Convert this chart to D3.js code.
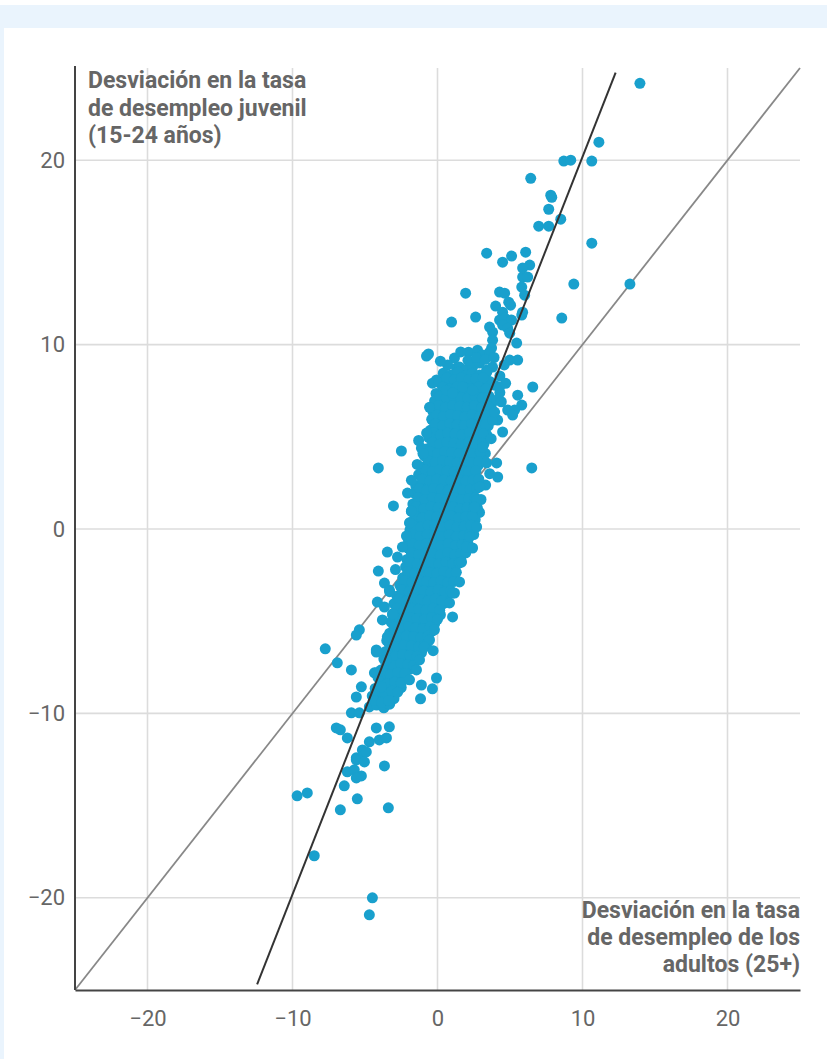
<!DOCTYPE html>
<html>
<head>
<meta charset="utf-8">
<script src="https://cdn.jsdelivr.net/npm/d3@7"></script>
<style>
  html, body { margin: 0; padding: 0; background: #fff; }
  svg { display: block; }
  text { font-family: Roboto, "Noto Sans", sans-serif; }
</style>
</head>
<body>
<svg id="chart"></svg>
<script>
// ---- data ----
const xTicks = [-20, -10, 0, 10, 20];
const yTicks = [-20, -10, 0, 10, 20];
const xTitle = ['Desviación en la tasa', 'de desempleo de los', 'adultos (25+)'];
const yTitle = ['Desviación en la tasa', 'de desempleo juvenil', '(15-24 años)'];

// fitted line: slope, intercept, and the y span it is drawn over
const trendCoef = [2.0, 0.18];
const trendSpan = [-24.7, 24.75];

// points above the dense core
const upperPoints = [
  [13.96, 24.17], [11.13, 20.98], [8.71, 19.95], [9.19, 20.0], [10.64, 19.95],
  [6.43, 19.02], [7.81, 18.10], [7.88, 17.99], [7.67, 17.34], [8.50, 16.80],
  [6.98, 16.42], [7.67, 16.42], [10.64, 15.50], [3.39, 14.96], [4.49, 14.47],
  [5.11, 14.80], [6.08, 15.01], [6.36, 14.31], [5.87, 14.15], [5.87, 13.66],
  [6.22, 13.66], [5.81, 13.12], [6.01, 12.68], [9.40, 13.28], [13.27, 13.28],
  [1.94, 12.79], [4.28, 12.85], [4.63, 12.79], [4.91, 12.30], [5.04, 12.14],
  [4.01, 12.09], [4.49, 11.76], [5.87, 11.76], [5.81, 11.60], [2.63, 11.49],
  [0.97, 11.22], [8.57, 11.44], [4.28, 11.33], [4.63, 11.44], [5.11, 11.33],
  [3.59, 10.95], [4.49, 11.06], [3.80, 10.68], [4.84, 10.89], [4.98, 10.62],
  [5.46, 10.08], [3.80, 10.24], [3.73, 9.81], [2.14, 9.59], [2.76, 9.70],
  [3.11, 9.43], [3.59, 9.59], [-0.62, 9.49], [-0.76, 9.38], [1.17, 9.27],
  [4.98, 9.16], [5.53, 9.16], [1.31, 8.73], [1.52, 8.78], [1.94, 8.62],
  [2.42, 8.78], [2.90, 9.00], [3.39, 8.62], [3.80, 8.78], [-0.07, 8.08],
  [-0.35, 7.91], [6.57, 7.70], [3.94, 7.80], [4.30, 7.40], [5.53, 7.26],
  [5.81, 6.72], [5.32, 6.45], [4.84, 6.45], [5.18, 6.18], [4.15, 5.91],
  [4.49, 5.26], [3.60, 6.10], [3.70, 6.70], [3.50, 5.60], [3.40, 5.10],
  [3.30, 4.10], [3.20, 4.60], [-0.35, 5.91], [-4.08, 3.31], [-2.49, 4.23],
  [-1.11, 4.39], [-1.30, 4.80], [6.50, 3.31], [4.08, 3.58], [4.15, 2.82],
  [3.32, 2.38], [3.00, 1.60], [2.90, 0.90], [0.70, 8.90], [2.10, 9.15],
  [2.70, 9.30], [3.30, 9.20], [4.30, 8.30], [4.60, 8.90], [3.90, 9.30],
  [2.60, 0.50], [2.50, -0.30], [2.75, 1.15]
];

// dense core of the cloud
const corePoints = [
  [0.4, 8.45], [0.9, 8.35], [1.4, 8.5], [1.9, 8.3], [2.4, 8.45], [2.9, 8.35], [3.4, 8.5],
  [0.1, 7.95], [0.6, 7.85], [1.1, 8.0], [1.6, 7.9], [2.1, 7.8], [2.6, 7.95], [3.1, 7.85], [3.6, 8.0],
  [-0.1, 7.35], [0.35, 7.45], [0.85, 7.3], [1.35, 7.5], [1.85, 7.4], [2.35, 7.3], [2.85, 7.45], [3.35, 7.35],
  [-0.2, 6.95], [0.3, 6.85], [0.8, 7.0], [1.3, 6.9], [1.8, 6.8], [2.3, 6.95], [2.8, 6.85], [3.3, 6.95],
  [-0.3, 6.35], [0.15, 6.45], [0.65, 6.3], [1.15, 6.5], [1.65, 6.4], [2.15, 6.3], [2.65, 6.45], [3.15, 6.35],
  [-0.4, 5.95], [0.1, 5.85], [0.6, 5.95], [1.1, 5.8], [1.6, 5.9], [2.1, 6.0], [2.6, 5.85], [3.1, 5.95],
  [-0.5, 5.35], [-0.05, 5.45], [0.45, 5.3], [0.95, 5.5], [1.45, 5.4], [1.95, 5.3], [2.45, 5.45], [2.95, 5.35],
  [-0.6, 4.95], [-0.1, 4.85], [0.4, 4.95], [0.9, 4.8], [1.4, 4.9], [1.9, 5.0], [2.4, 4.85], [2.9, 4.95],
  [-0.7, 4.35], [-0.25, 4.45], [0.25, 4.3], [0.75, 4.5], [1.25, 4.4], [1.75, 4.3], [2.25, 4.45], [2.75, 4.35],
  [-0.9, 3.95], [-0.4, 3.85], [0.1, 3.95], [0.6, 3.8], [1.1, 3.9], [1.6, 4.0], [2.1, 3.85], [2.6, 3.95], [3.0, 3.8],
  [-1.1, 3.35], [-0.6, 3.45], [-0.1, 3.3], [0.4, 3.5], [0.9, 3.4], [1.4, 3.3], [1.9, 3.45], [2.4, 3.35], [2.8, 3.45],
  [-1.3, 2.95], [-0.8, 2.85], [-0.3, 2.95], [0.2, 2.8], [0.7, 2.9], [1.2, 3.0], [1.7, 2.85], [2.2, 2.95], [2.6, 2.85],
  [-1.5, 2.35], [-1.0, 2.45], [-0.5, 2.3], [0.0, 2.5], [0.5, 2.4], [1.0, 2.3], [1.5, 2.45], [2.0, 2.35], [2.5, 2.45],
  [-1.6, 1.95], [-1.1, 1.85], [-0.6, 1.95], [-0.1, 1.8], [0.4, 1.9], [0.9, 2.0], [1.4, 1.85], [1.9, 1.95], [2.4, 1.85],
  [-1.7, 1.35], [-1.2, 1.45], [-0.7, 1.3], [-0.2, 1.5], [0.3, 1.4], [0.8, 1.3], [1.3, 1.45], [1.8, 1.35], [2.3, 1.45],
  [-1.8, 0.95], [-1.3, 0.85], [-0.8, 0.95], [-0.3, 0.8], [0.2, 0.9], [0.7, 1.0], [1.2, 0.85], [1.7, 0.95], [2.2, 0.85],
  [-1.9, 0.35], [-1.4, 0.45], [-0.9, 0.3], [-0.4, 0.5], [0.1, 0.4], [0.6, 0.3], [1.1, 0.45], [1.6, 0.35], [2.1, 0.45],
  [-1.9, -0.05], [-1.4, -0.15], [-0.9, -0.05], [-0.4, -0.2], [0.1, -0.1], [0.6, 0.0], [1.1, -0.15], [1.6, -0.05], [2.0, -0.15],
  [-2.0, -0.65], [-1.5, -0.55], [-1.0, -0.7], [-0.5, -0.5], [0.0, -0.6], [0.5, -0.7], [1.0, -0.55], [1.5, -0.65], [1.9, -0.55],
  [-2.0, -1.05], [-1.5, -1.15], [-1.0, -1.05], [-0.5, -1.2], [0.0, -1.1], [0.5, -1.0], [1.0, -1.15], [1.5, -1.05], [1.8, -1.2],
  [-2.1, -1.65], [-1.6, -1.55], [-1.1, -1.7], [-0.6, -1.5], [-0.1, -1.6], [0.4, -1.7], [0.9, -1.55], [1.3, -1.65], [1.6, -1.55],
  [-2.2, -2.05], [-1.7, -2.15], [-1.2, -2.05], [-0.7, -2.2], [-0.2, -2.1], [0.3, -2.0], [0.8, -2.15], [1.2, -2.05],
  [-2.4, -2.65], [-1.9, -2.55], [-1.4, -2.7], [-0.9, -2.5], [-0.4, -2.6], [0.1, -2.7], [0.6, -2.55], [1.0, -2.65],
  [-2.6, -3.05], [-2.1, -3.15], [-1.6, -3.05], [-1.1, -3.2], [-0.6, -3.1], [-0.1, -3.0], [0.4, -3.15], [0.8, -3.05],
  [-2.8, -3.65], [-2.3, -3.55], [-1.8, -3.7], [-1.3, -3.5], [-0.8, -3.6], [-0.3, -3.7], [0.2, -3.55], [0.6, -3.65],
  [-3.0, -4.05], [-2.5, -4.15], [-2.0, -4.05], [-1.5, -4.2], [-1.0, -4.1], [-0.5, -4.0], [0.0, -4.15], [0.4, -4.05],
  [-3.1, -4.65], [-2.6, -4.55], [-2.1, -4.7], [-1.6, -4.5], [-1.1, -4.6], [-0.6, -4.7], [-0.1, -4.55], [0.2, -4.65],
  [-3.2, -5.05], [-2.7, -5.15], [-2.2, -5.05], [-1.7, -5.2], [-1.2, -5.1], [-0.7, -5.0], [-0.2, -5.15],
  [-3.3, -5.65], [-2.8, -5.55], [-2.3, -5.7], [-1.8, -5.5], [-1.3, -5.6], [-0.8, -5.7], [-0.4, -5.55],
  [-3.5, -6.05], [-3.0, -6.15], [-2.5, -6.05], [-2.0, -6.2], [-1.5, -6.1], [-1.0, -6.0], [-0.7, -6.15],
  [-3.6, -6.65], [-3.1, -6.55], [-2.6, -6.7], [-2.1, -6.5], [-1.6, -6.6], [-1.1, -6.7],
  [-3.7, -7.05], [-3.2, -7.15], [-2.7, -7.05], [-2.2, -7.2], [-1.7, -7.1], [-1.4, -7.0],
  [-3.9, -7.65], [-3.4, -7.55], [-2.9, -7.7], [-2.4, -7.5], [-1.9, -7.6],
  [-4.1, -8.05], [-3.6, -8.15], [-3.1, -8.05], [-2.6, -8.2], [-2.2, -8.1],
  [-4.3, -8.65], [-3.8, -8.55], [-3.3, -8.7], [-2.8, -8.5], [-2.5, -8.6],
  [-4.5, -9.05], [-4.0, -9.15], [-3.5, -9.05], [-3.0, -9.2],
  [-4.7, -9.65], [-4.2, -9.55], [-3.7, -9.7], [-3.3, -9.5]
];

// more core points sitting between the ones above
const coreFillPoints = [
  [0.65, 8.2], [1.15, 8.1], [1.65, 8.2], [2.15, 8.1], [2.65, 8.15], [3.15, 8.2],
  [0.35, 7.7], [0.85, 7.6], [1.35, 7.7], [1.85, 7.65], [2.35, 7.6], [2.85, 7.7], [3.35, 7.6],
  [0.15, 7.2], [0.6, 7.1], [1.1, 7.2], [1.6, 7.15], [2.1, 7.1], [2.6, 7.2], [3.1, 7.1], [3.55, 7.2],
  [0.05, 6.7], [0.55, 6.6], [1.05, 6.7], [1.55, 6.65], [2.05, 6.6], [2.55, 6.7], [3.05, 6.6], [3.5, 6.65],
  [-0.05, 6.2], [0.4, 6.1], [0.9, 6.2], [1.4, 6.15], [1.9, 6.1], [2.4, 6.2], [2.9, 6.1], [3.35, 6.15],
  [-0.15, 5.7], [0.35, 5.6], [0.85, 5.7], [1.35, 5.65], [1.85, 5.6], [2.35, 5.7], [2.85, 5.6], [3.3, 5.65],
  [-0.25, 5.2], [0.2, 5.1], [0.7, 5.2], [1.2, 5.15], [1.7, 5.1], [2.2, 5.2], [2.7, 5.1], [3.15, 5.15],
  [-0.35, 4.7], [0.15, 4.6], [0.65, 4.7], [1.15, 4.65], [1.65, 4.6], [2.15, 4.7], [2.65, 4.6], [3.1, 4.65],
  [-0.5, 4.2], [0.0, 4.1], [0.5, 4.2], [1.0, 4.15], [1.5, 4.1], [2.0, 4.2], [2.5, 4.1], [2.95, 4.15],
  [-0.65, 3.7], [-0.15, 3.6], [0.35, 3.7], [0.85, 3.65], [1.35, 3.6], [1.85, 3.7], [2.35, 3.6], [2.85, 3.65],
  [-0.85, 3.2], [-0.35, 3.1], [0.15, 3.2], [0.65, 3.15], [1.15, 3.1], [1.65, 3.2], [2.15, 3.1], [2.65, 3.15],
  [-1.05, 2.7], [-0.55, 2.6], [-0.05, 2.7], [0.45, 2.65], [0.95, 2.6], [1.45, 2.7], [1.95, 2.6], [2.45, 2.65], [2.85, 2.7],
  [-1.25, 2.2], [-0.75, 2.1], [-0.25, 2.2], [0.25, 2.15], [0.75, 2.1], [1.25, 2.2], [1.75, 2.1], [2.25, 2.15], [2.7, 2.2],
  [-1.35, 1.7], [-0.85, 1.6], [-0.35, 1.7], [0.15, 1.65], [0.65, 1.6], [1.15, 1.7], [1.65, 1.6], [2.15, 1.65], [2.6, 1.7],
  [-1.45, 1.2], [-0.95, 1.1], [-0.45, 1.2], [0.05, 1.15], [0.55, 1.1], [1.05, 1.2], [1.55, 1.1], [2.05, 1.15], [2.5, 1.2],
  [-1.55, 0.7], [-1.05, 0.6], [-0.55, 0.7], [-0.05, 0.65], [0.45, 0.6], [0.95, 0.7], [1.45, 0.6], [1.95, 0.65], [2.4, 0.7],
  [-1.65, 0.2], [-1.15, 0.1], [-0.65, 0.2], [-0.15, 0.15], [0.35, 0.1], [0.85, 0.2], [1.35, 0.1], [1.85, 0.15], [2.3, 0.2],
  [-1.7, -0.3], [-1.2, -0.4], [-0.7, -0.3], [-0.2, -0.35], [0.3, -0.4], [0.8, -0.3], [1.3, -0.4], [1.8, -0.35], [2.2, -0.3],
  [-1.75, -0.8], [-1.25, -0.9], [-0.75, -0.8], [-0.25, -0.85], [0.25, -0.9], [0.75, -0.8], [1.25, -0.9], [1.7, -0.85], [2.1, -0.8],
  [-1.8, -1.3], [-1.3, -1.4], [-0.8, -1.3], [-0.3, -1.35], [0.2, -1.4], [0.7, -1.3], [1.2, -1.4], [1.6, -1.35], [1.95, -1.3],
  [-1.9, -1.8], [-1.4, -1.9], [-0.9, -1.8], [-0.4, -1.85], [0.1, -1.9], [0.6, -1.8], [1.05, -1.9], [1.45, -1.85],
  [-2.05, -2.3], [-1.55, -2.4], [-1.05, -2.3], [-0.55, -2.35], [-0.05, -2.4], [0.45, -2.3], [0.9, -2.4], [1.3, -2.35],
  [-2.25, -2.8], [-1.75, -2.9], [-1.25, -2.8], [-0.75, -2.85], [-0.25, -2.9], [0.25, -2.8], [0.7, -2.9], [1.1, -2.85],
  [-2.45, -3.3], [-1.95, -3.4], [-1.45, -3.3], [-0.95, -3.35], [-0.45, -3.4], [0.05, -3.3], [0.5, -3.4], [0.9, -3.35],
  [-2.65, -3.8], [-2.15, -3.9], [-1.65, -3.8], [-1.15, -3.85], [-0.65, -3.9], [-0.15, -3.8], [0.3, -3.9],
  [-2.8, -4.3], [-2.3, -4.4], [-1.8, -4.3], [-1.3, -4.35], [-0.8, -4.4], [-0.3, -4.3], [0.15, -4.4],
  [-2.9, -4.8], [-2.4, -4.9], [-1.9, -4.8], [-1.4, -4.85], [-0.9, -4.9], [-0.4, -4.8], [0.0, -4.9],
  [-3.0, -5.3], [-2.5, -5.4], [-2.0, -5.3], [-1.5, -5.35], [-1.0, -5.4], [-0.5, -5.3],
  [-3.15, -5.8], [-2.65, -5.9], [-2.15, -5.8], [-1.65, -5.85], [-1.15, -5.9], [-0.65, -5.8],
  [-3.3, -6.3], [-2.8, -6.4], [-2.3, -6.3], [-1.8, -6.35], [-1.3, -6.4], [-0.9, -6.3],
  [-3.4, -6.8], [-2.9, -6.9], [-2.4, -6.8], [-1.9, -6.85], [-1.4, -6.9],
  [-3.55, -7.3], [-3.05, -7.4], [-2.55, -7.3], [-2.05, -7.35], [-1.65, -7.4],
  [-3.75, -7.8], [-3.25, -7.9], [-2.75, -7.8], [-2.25, -7.85],
  [-3.95, -8.3], [-3.45, -8.4], [-2.95, -8.3], [-2.5, -8.35],
  [-4.15, -8.8], [-3.65, -8.9], [-3.15, -8.8], [-2.75, -8.85],
  [-4.35, -9.3], [-3.85, -9.4], [-3.35, -9.3]
];

// ragged points along the edges of the core
const edgePoints = [
  [-1.80, 2.65], [-2.07, 1.95], [-1.80, 0.98], [-1.93, 0.33], [-2.14, -0.38],
  [-2.42, -0.98], [-2.76, -1.52], [3.11, 4.44], [3.39, 3.58], [2.90, 2.28],
  [2.70, 1.57], [2.56, 1.19], [2.21, -0.43], [2.00, -0.98], [3.80, 5.91],
  [3.94, 6.34], [4.08, 7.00], [4.28, 7.70], [0.62, 7.53], [1.04, 7.37],
  [1.73, 7.70], [2.42, 7.53], [-3.66, -2.93], [-3.32, -3.31], [-3.46, -5.85],
  [-3.52, -7.10], [-4.35, -7.80], [-3.87, -8.56], [-4.22, -6.56], [1.52, -1.84],
  [1.17, -3.47], [0.83, -4.01], [-0.55, -6.02], [-0.90, -6.40], [-1.24, -7.10],
  [-1.45, -7.64], [-1.93, -8.18], [-0.55, 6.60], [-0.75, 5.20], [-1.00, 4.10],
  [-1.40, 3.50], [0.20, 9.10], [1.60, 9.60], [4.70, 7.90], [4.40, 6.90],
  [3.70, 4.90], [3.60, 3.00], [-2.90, -2.20], [-3.10, -4.60], [-0.30, -6.60]
];

// points below the dense core
const lowerPoints = [
  [-3.04, 1.25], [2.70, 0.11], [2.42, -1.03], [-3.46, -1.25], [-4.08, -2.28],
  [1.66, -1.79], [1.52, -2.87], [1.04, -3.47], [1.04, -4.77], [-0.21, -5.47],
  [-4.15, -3.96], [-3.66, -4.23], [-3.80, -4.93], [-3.30, -3.40], [-5.39, -5.47],
  [-5.60, -5.75], [-7.74, -6.50], [-6.91, -7.26], [-5.94, -7.64], [-4.22, -6.67],
  [-4.22, -7.80], [-5.25, -8.56], [-5.60, -9.11], [-1.11, -8.46], [-0.07, -8.08],
  [-0.35, -8.67], [-1.17, -9.21], [-5.94, -9.97], [-5.39, -9.97], [-6.70, -10.89],
  [-6.98, -10.79], [-6.22, -11.33], [-4.22, -10.79], [-3.32, -10.73], [-4.70, -11.54],
  [-4.01, -11.44], [-3.52, -11.33], [-5.18, -11.98], [-5.60, -12.41], [-5.25, -12.36],
  [-4.91, -12.09], [-5.60, -12.52], [-5.04, -12.63], [-3.66, -12.85], [-6.22, -13.17],
  [-5.74, -13.06], [-5.25, -13.39], [-5.60, -13.50], [-6.43, -13.93], [-5.53, -14.63],
  [-6.70, -15.23], [-3.39, -15.12], [-9.68, -14.47], [-8.98, -14.31], [-8.50, -17.72],
  [-4.49, -20.0], [-4.70, -20.92]
];

// ---- drawing ----
const width = 827, height = 1059;
const margin = {top: 68, right: 27, bottom: 69, left: 75};

const x = d3.scaleLinear().domain([-25, 25]).range([margin.left, width - margin.right]);
const y = d3.scaleLinear().domain([-25, 25]).range([height - margin.bottom, margin.top]);

const svg = d3.select('#chart').attr('width', width).attr('height', height);

// page frame
svg.append('rect').attr('x', 0).attr('y', 5).attr('width', width).attr('height', 23).attr('fill', '#eaf4fd');
svg.append('rect').attr('x', 0).attr('y', 28).attr('width', 4).attr('height', height - 28).attr('fill', '#eaf4fd');

// grid
svg.append('g').selectAll('line').data(xTicks).join('line')
  .attr('x1', d => x(d)).attr('x2', d => x(d))
  .attr('y1', y(25)).attr('y2', y(-25))
  .attr('stroke', '#dcdcdc').attr('stroke-width', 1.6);
svg.append('g').selectAll('line').data(yTicks).join('line')
  .attr('x1', x(-25)).attr('x2', x(25))
  .attr('y1', d => y(d)).attr('y2', d => y(d))
  .attr('stroke', '#dcdcdc').attr('stroke-width', 1.6);

// y = x reference line
svg.append('line')
  .attr('x1', x(-25)).attr('y1', y(-25))
  .attr('x2', x(25)).attr('y2', y(25))
  .attr('stroke', '#888').attr('stroke-width', 1.8);

// points
const allPoints = upperPoints.concat(corePoints, coreFillPoints, edgePoints, lowerPoints);
svg.append('g').selectAll('circle').data(allPoints).join('circle')
  .attr('cx', d => x(d[0]))
  .attr('cy', d => y(d[1]))
  .attr('r', 5.5)
  .attr('fill', '#19a0cd');

// fitted line
const [slope, intercept] = trendCoef;
svg.append('line')
  .attr('x1', x((trendSpan[0] - intercept) / slope)).attr('y1', y(trendSpan[0]))
  .attr('x2', x((trendSpan[1] - intercept) / slope)).attr('y2', y(trendSpan[1]))
  .attr('stroke', '#333').attr('stroke-width', 2);

// axes
const xAxis = svg.append('g')
  .attr('transform', `translate(0,${y(-25)})`)
  .call(d3.axisBottom(x).tickValues(xTicks).tickSize(0).tickSizeOuter(0).tickPadding(20));
const yAxis = svg.append('g')
  .attr('transform', `translate(${x(-25)},0)`)
  .call(d3.axisLeft(y).tickValues(yTicks).tickSize(0).tickSizeOuter(0).tickPadding(10));

[xAxis, yAxis].forEach(g => {
  g.select('.domain').attr('stroke', '#444').attr('stroke-width', 2);
  g.selectAll('text')
    .style('font-family', 'Roboto, sans-serif')
    .style('font-size', '22px')
    .attr('fill', '#666');
});
yAxis.select('.domain').attr('d', `M0,${y(25) - 2}V${y(-25)}`);

// axis titles
svg.append('text')
  .attr('x', 88).attr('y', 88)
  .attr('fill', '#666').style('font-size', '23px').style('font-weight', 700)
  .selectAll('tspan').data(yTitle).join('tspan')
  .attr('x', 88).attr('dy', (d, i) => i === 0 ? 0 : 27.5)
  .text(d => d);

svg.append('text')
  .attr('x', x(25)).attr('y', 918)
  .attr('text-anchor', 'end')
  .attr('fill', '#666').style('font-size', '23px').style('font-weight', 700)
  .selectAll('tspan').data(xTitle).join('tspan')
  .attr('x', x(25)).attr('dy', (d, i) => i === 0 ? 0 : 27)
  .text(d => d);
</script>
</body>
</html>
